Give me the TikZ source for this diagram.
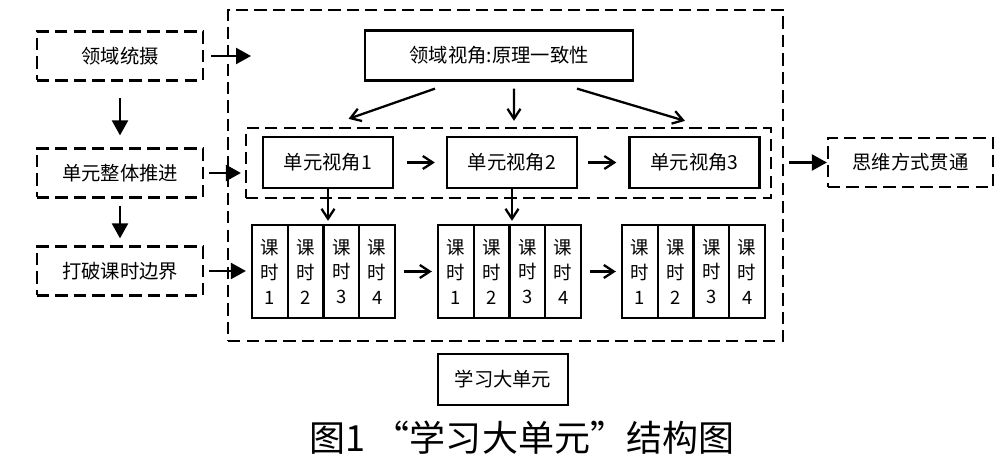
\documentclass[tikz,border=0pt]{standalone}
\usepackage{fontspec}
\newfontfamily\cjk{Noto Sans CJK SC}
\usetikzlibrary{arrows.meta}

\begin{document}
\begin{tikzpicture}[x=0.02cm,y=-0.02cm,
        box/.style={draw,line width=1.3pt,inner sep=0pt,font=\cjk\fontsize{11}{13}\selectfont},
        dbox/.style={box,dash pattern=on 7pt off 3.5pt},
        cell/.style={box,align=center,font=\cjk\fontsize{10.5}{14.2}\selectfont,minimum width=0.715cm,minimum height=1.86cm},
        farr/.style={line width=1.3pt,-{Triangle[length=0.3cm,width=0.32cm]}},
        varr/.style={line width=1.3pt,-{Straight Barb[length=0.2cm,width=0.26cm]}}]
        \useasboundingbox (0,0) rectangle (1008,469);
        \node[dbox,minimum width=3.32cm,minimum height=0.98cm] (ly) at (120,56) {领域统摄};
        \node[dbox,minimum width=3.32cm,minimum height=0.98cm] (zt) at (120,173) {单元整体推进};
        \node[dbox,minimum width=3.32cm,minimum height=0.98cm] (dp) at (120,271) {打破课时边界};
        \node[dbox,minimum width=11.1cm,minimum height=6.62cm] (big) at (505.5,175.5) {};
        \node[box,minimum width=5.36cm,minimum height=1cm] (yj) at (499,55.5) {领域视角:原理一致性};
        \node[dbox,minimum width=10.5cm,minimum height=1.4cm] (dy) at (508.5,163) {};
        \node[box,minimum width=2.6cm,minimum height=1.02cm] (s1) at (328,162.5) {单元视角1};
        \node[box,minimum width=2.6cm,minimum height=1.02cm] (s2) at (512,162.5) {单元视角2};
        \node[box,minimum width=2.6cm,minimum height=1.02cm] (s3) at (694.5,162.5) {单元视角3};
        \node[dbox,minimum width=3.3cm,minimum height=0.98cm] (sw) at (910.5,162.5) {思维方式贯通};
        \node[box,minimum width=2.6cm,minimum height=1.02cm] (xx) at (503,379.5) {学习大单元};
        \foreach \g/\x in {1/252,2/438,3/622}
            \foreach \k in {1,...,4}
                \node[cell] (g\g-\k) at (\x+17.9+35.75*\k-35.75,271.5) {课\\时\\\k};
        \node[font=\cjk\fontsize{20.5}{24}\selectfont] (cap) at (522,438) {图1 “学习大单元”结构图};
        \coordinate (lyend) at (251,56);
        \draw[farr,shorten <=0.14cm] (ly) -- (lyend);
        \draw[farr,shorten <=0.32cm,shorten >=0.24cm] (ly) -- (zt);
        \draw[farr,shorten <=0.14cm,shorten >=0.14cm] (zt) -- (dp);
        \draw[farr,shorten <=0.1cm,shorten >=0.08cm] (zt) -- (zt -| dy.west);
        \draw[farr,shorten <=0.1cm,shorten >=0.1cm] (dp) -- (dp -| g1-1.west);
        \draw[farr,shorten <=0.1cm] (big.east |- sw) -- (sw);
        \draw[varr] ([shift={(-64,7)}]yj.south) -- ([shift={(-160,-8)}]dy.north);
        \draw[varr] ([shift={(15,7)}]yj.south) -- ([shift={(5.5,-6)}]dy.north);
        \draw[varr] ([shift={(78,7)}]yj.south) -- ([shift={(176.5,-6)}]dy.north);
        \draw[varr,shorten <=0.26cm,shorten >=0.22cm] (s1) -- (s2);
        \draw[varr,shorten <=0.2cm,shorten >=0.24cm] (s2) -- (s3);
        \draw[varr,shorten >=0.06cm] (s1.south) -- (s1.south |- g1-3.north);
        \draw[varr,shorten >=0.06cm] (s2.south) -- (s2.south |- g2-3.north);
        \draw[varr,shorten <=0.16cm,shorten >=0.1cm] (g1-4) -- (g2-1);
        \draw[varr,shorten <=0.16cm,shorten >=0.1cm] (g2-4) -- (g3-1);
    \end{tikzpicture}
\end{document}
